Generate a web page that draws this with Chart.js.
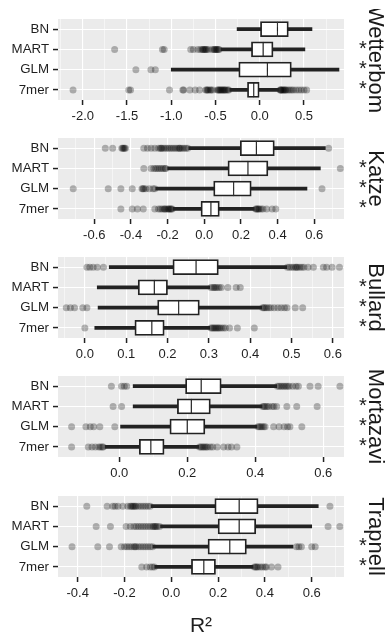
<!DOCTYPE html>
<html>
<head>
<meta charset="utf-8">
<script src="https://cdn.jsdelivr.net/npm/chart.js@4.4.0/dist/chart.umd.min.js"></script>
<style>
  html, body { margin: 0; padding: 0; background: #fff; }
  body { width: 388px; height: 639px; position: relative; overflow: hidden; }
  .panel { position: absolute; left: 0; width: 388px; }
</style>
</head>
<body>
<script>
const methods = ['BN', 'MART', 'GLM', '7mer'];
const studies = ['Wetterbom', 'Katze', 'Bullard', 'Mortazavi', 'Trapnell'];

// box stats, one row per study, columns in method order BN, MART, GLM, 7mer
const whiskerLow = [
  [-0.256, -0.44, -1.0, -0.34],
  [-0.085, -0.2, -0.265, -0.17],
  [0.059, 0.03, 0.032, 0.024],
  [0.041, 0.041, 0.004, -0.042],
  [-0.086, -0.046, -0.079, -0.071]
];
const q1 = [
  [0.008, -0.094, -0.237, -0.139],
  [0.196, 0.129, 0.051, -0.018],
  [0.213, 0.129, 0.176, 0.121],
  [0.195, 0.171, 0.149, 0.059],
  [0.186, 0.2, 0.157, 0.086]
];
const median = [
  [0.2, 0.038, 0.086, -0.068],
  [0.284, 0.238, 0.16, 0.036],
  [0.269, 0.168, 0.227, 0.162],
  [0.241, 0.212, 0.2, 0.093],
  [0.29, 0.29, 0.25, 0.139]
];
const q3 = [
  [0.323, 0.15, 0.357, 0.0],
  [0.382, 0.347, 0.256, 0.082],
  [0.323, 0.2, 0.277, 0.192],
  [0.3, 0.268, 0.252, 0.132],
  [0.371, 0.361, 0.321, 0.189]
];
const whiskerHigh = [
  [0.59, 0.51, 0.895, 0.22],
  [0.66, 0.633, 0.56, 0.273],
  [0.489, 0.302, 0.428, 0.302],
  [0.463, 0.42, 0.405, 0.234],
  [0.628, 0.6, 0.52, 0.35]
];

// outlying points per study, per method
const outWetterbom = [
  [],
  [-1.64, -1.10, -1.08, -0.78, -0.75, -0.70, -0.67, -0.65, -0.64, -0.63, -0.62, -0.61, -0.60, -0.58, -0.54, -0.52, -0.51, -0.50, -0.49, -0.48, -0.47, -0.46],
  [-1.40, -1.23, -1.18],
  [-2.11, -1.48, -1.46, -1.02, -0.87, -0.86, -0.79, -0.73, -0.68, -0.61, -0.60, -0.59, -0.58, -0.56, -0.55, -0.53, -0.48, -0.47, -0.46, -0.45, -0.44, -0.43, -0.42, -0.41, -0.40, -0.39, -0.38, -0.36, -0.35,
   0.23, 0.235, 0.24, 0.25, 0.26, 0.27, 0.28, 0.29, 0.30, 0.32, 0.34, 0.36, 0.38, 0.41, 0.44, 0.47, 0.50, 0.53]
];
const outKatze = [
  [-0.54, -0.50, -0.45, -0.445, -0.44, -0.435, -0.43, -0.33, -0.31, -0.29, -0.27, -0.25, -0.24, -0.235, -0.23, -0.22, -0.21, -0.2, -0.19, -0.18, -0.17, -0.16, -0.15, -0.14, -0.135, -0.13, -0.12, -0.11, -0.1, -0.09, 0.678],
  [-0.33, -0.29, -0.275, -0.265, -0.255, -0.245, -0.235, -0.225, -0.215, -0.21, 0.742],
  [-0.715, -0.524, -0.455, -0.393, -0.34, -0.335, -0.33, -0.32, -0.3, -0.28, -0.27, 0.642],
  [-0.455, -0.393, -0.365, -0.333, -0.27, -0.25, -0.24, -0.23, -0.22, -0.215, -0.21, -0.2, -0.195, -0.19, -0.185, -0.18, -0.175,
   0.28, 0.285, 0.29, 0.295, 0.3, 0.31, 0.32, 0.34, 0.37, 0.39]
];
const outBullard = [
  [0.005, 0.012, 0.02, 0.03, 0.045, 0.49, 0.495, 0.5, 0.505, 0.51, 0.512, 0.515, 0.52, 0.525, 0.53, 0.54, 0.553, 0.577, 0.585, 0.598, 0.616],
  [0.305, 0.31, 0.313, 0.316, 0.32, 0.325, 0.33, 0.346, 0.366, 0.376],
  [-0.045, -0.035, -0.025, -0.005, 0.005, 0.43, 0.433, 0.436, 0.44, 0.445, 0.45, 0.458, 0.467, 0.475, 0.483, 0.489, 0.509, 0.527],
  [0.0, 0.305, 0.308, 0.311, 0.314, 0.317, 0.32, 0.323, 0.326, 0.33, 0.335, 0.34, 0.35, 0.369, 0.41]
];
const outMortazavi = [
  [-0.023, 0.007, 0.015, 0.022, 0.465, 0.47, 0.475, 0.48, 0.485, 0.49, 0.495, 0.5, 0.51, 0.52, 0.527, 0.561, 0.585, 0.649],
  [-0.018, 0.007, 0.422, 0.426, 0.43, 0.435, 0.44, 0.45, 0.455, 0.463, 0.493, 0.522, 0.582],
  [-0.14, -0.098, -0.085, -0.075, -0.057, -0.013, 0.408, 0.412, 0.416, 0.42, 0.425, 0.429, 0.454, 0.47, 0.485, 0.495, 0.502, 0.537],
  [-0.14, -0.091, -0.08, -0.07, -0.06, -0.055, -0.05, -0.047, 0.236, 0.24, 0.244, 0.248, 0.252, 0.256, 0.26, 0.268, 0.275, 0.288, 0.307, 0.32, 0.33, 0.346]
];
const outTrapnell = [
  [-0.361, -0.274, -0.25, -0.24, -0.228, -0.207, -0.186, -0.175, -0.17, -0.165, -0.16, -0.155, -0.15, -0.14, -0.13, -0.12, -0.11, -0.1, -0.09, 0.678],
  [-0.321, -0.26, -0.193, -0.175, -0.16, -0.15, -0.14, -0.13, -0.12, -0.11, -0.1, -0.09, -0.08, -0.075, -0.07, -0.065, -0.06, -0.05, 0.67, 0.72],
  [-0.424, -0.314, -0.264, -0.214, -0.2, -0.19, -0.18, -0.17, -0.16, -0.155, -0.15, -0.14, -0.13, -0.12, -0.11, -0.1, -0.09, -0.08, 0.535, 0.545, 0.556, 0.6, 0.615],
  [-0.126, -0.105, -0.09, -0.08, -0.072, 0.355, 0.36, 0.365, 0.37, 0.38, 0.39, 0.4, 0.406, 0.428, 0.456]
];
const outliers = [outWetterbom, outKatze, outBullard, outMortazavi, outTrapnell];

// significance marks shown right of each panel
const stars = [
  ['', '*', '*', '*'],
  ['', '*', '*', '*'],
  ['', '*', '*', '*'],
  ['', '*', '*', '*'],
  ['', '', '*', '*']
];

// axis limits and breaks
const xMin = [-2.28, -0.798, -0.065, -0.18, -0.484];
const xMax = [0.952, 0.762, 0.627, 0.661, 0.738];
const majorTicks = [
  [-2.0, -1.5, -1.0, -0.5, 0.0, 0.5],
  [-0.6, -0.4, -0.2, 0.0, 0.2, 0.4, 0.6],
  [0.0, 0.1, 0.2, 0.3, 0.4, 0.5, 0.6],
  [0.0, 0.2, 0.4, 0.6],
  [-0.4, -0.2, 0.0, 0.2, 0.4, 0.6]
];
const minorTicks = [
  [-2.25, -1.75, -1.25, -0.75, -0.25, 0.25, 0.75],
  [-0.7, -0.5, -0.3, -0.1, 0.1, 0.3, 0.5, 0.7],
  [-0.05, 0.05, 0.15, 0.25, 0.35, 0.45, 0.55],
  [-0.1, 0.1, 0.3, 0.5],
  [-0.3, -0.1, 0.1, 0.3, 0.5, 0.7]
];

Chart.defaults.font.family = "'Liberation Sans', Arial, sans-serif";
const ink = '#222222';
const textCol = '#1f1f1f';

const panelBackground = {
  id: 'panelBackground',
  beforeDraw(chart) {
    const { ctx, chartArea: a } = chart;
    ctx.save();
    ctx.fillStyle = '#EBEBEB';
    ctx.fillRect(a.left, a.top, a.right - a.left, a.bottom - a.top);
    ctx.restore();
  }
};

const panelTop = [18.5, 137.8, 257, 376.3, 495.5];
const plotHeight = 81;
const padTop = 10;

studies.forEach((name, p) => {
  const last = p === studies.length - 1;
  const axisH = last ? 62 : 30;
  const wrap = document.createElement('div');
  wrap.className = 'panel';
  wrap.style.top = (panelTop[p] - padTop) + 'px';
  wrap.style.height = (padTop + plotHeight + axisH) + 'px';
  const canvas = document.createElement('canvas');
  wrap.appendChild(canvas);
  document.body.appendChild(wrap);

  const majors = majorTicks[p];
  const isMajor = v => majors.some(m => Math.abs(m - v) < 1e-9);
  const allTicks = majors.concat(minorTicks[p]).sort((a, b) => a - b);

  const points = [];
  methods.forEach((m, i) => outliers[p][i].forEach(v => points.push({ x: v, y: m })));

  new Chart(canvas, {
    type: 'bar',
    data: {
      labels: methods,
      datasets: [
        {
          type: 'scatter',
          data: points,
          pointRadius: 3.5,
          pointBackgroundColor: 'rgba(0,0,0,0.28)',
          pointBorderWidth: 0,
          order: 3
        },
        {
          data: methods.map((m, i) => [whiskerLow[p][i], whiskerHigh[p][i]]),
          backgroundColor: ink,
          borderWidth: 0,
          barThickness: 3,
          order: 2
        },
        {
          data: methods.map((m, i) => [q1[p][i], median[p][i]]),
          backgroundColor: '#fff',
          borderColor: ink,
          borderWidth: { top: 1.8, bottom: 1.8, left: 1.8, right: 0.9 },
          borderSkipped: false,
          barThickness: 15,
          order: 1
        },
        {
          data: methods.map((m, i) => [median[p][i], q3[p][i]]),
          backgroundColor: '#fff',
          borderColor: ink,
          borderWidth: { top: 1.8, bottom: 1.8, left: 0.9, right: 1.8 },
          borderSkipped: false,
          barThickness: 15,
          order: 1
        }
      ]
    },
    options: {
      indexAxis: 'y',
      responsive: true,
      maintainAspectRatio: false,
      animation: false,
      events: [],
      layout: { padding: { top: padTop, right: 0, bottom: 0, left: 0 } },
      datasets: { bar: { grouped: false } },
      plugins: { legend: { display: false }, tooltip: { enabled: false } },
      scales: {
        x: {
          type: 'linear',
          min: xMin[p],
          max: xMax[p],
          bounds: 'data',
          afterBuildTicks: s => { s.ticks = allTicks.map(v => ({ value: v })); },
          afterFit: s => { s.height = axisH; s.paddingLeft = 0; s.paddingRight = 0; },
          border: { display: false },
          grid: {
            color: '#fff',
            lineWidth: ctx => isMajor(ctx.tick.value) ? 1.1 : 0.5,
            tickColor: ctx => isMajor(ctx.tick.value) ? ink : 'rgba(0,0,0,0)',
            tickLength: 5,
            tickWidth: 1.5
          },
          ticks: {
            autoSkip: false,
            maxRotation: 0,
            padding: 4,
            color: textCol,
            font: { size: 13 },
            callback: v => isMajor(v) ? v.toFixed(1) : ''
          },
          title: {
            display: last,
            text: 'R²',
            color: textCol,
            font: { size: 21 },
            padding: { top: 0, bottom: 0 }
          }
        },
        y: {
          type: 'category',
          position: 'left',
          offset: true,
          afterFit: s => { s.width = 58; s.paddingTop = 0; s.paddingBottom = 0; },
          border: { display: false },
          grid: { color: '#fff', lineWidth: 1.1, offset: false, tickColor: ink, tickLength: 5, tickWidth: 1.5 },
          ticks: { autoSkip: false, padding: 4, color: textCol, font: { size: 13.3 } }
        },
        y2: {
          type: 'category',
          position: 'right',
          labels: stars[p],
          offset: true,
          afterFit: s => { s.width = 44; s.paddingTop = 0; s.paddingBottom = 0; },
          border: { display: false },
          grid: { display: false, drawTicks: false },
          ticks: { autoSkip: false, padding: 15, color: '#1a1a1a', font: { size: 20 } },
          title: {
            display: true,
            text: name,
            color: '#1a1a1a',
            font: { size: 22 },
            padding: { top: 0, bottom: 0 }
          }
        }
      }
    },
    plugins: [panelBackground]
  });
});
</script>
</body>
</html>
